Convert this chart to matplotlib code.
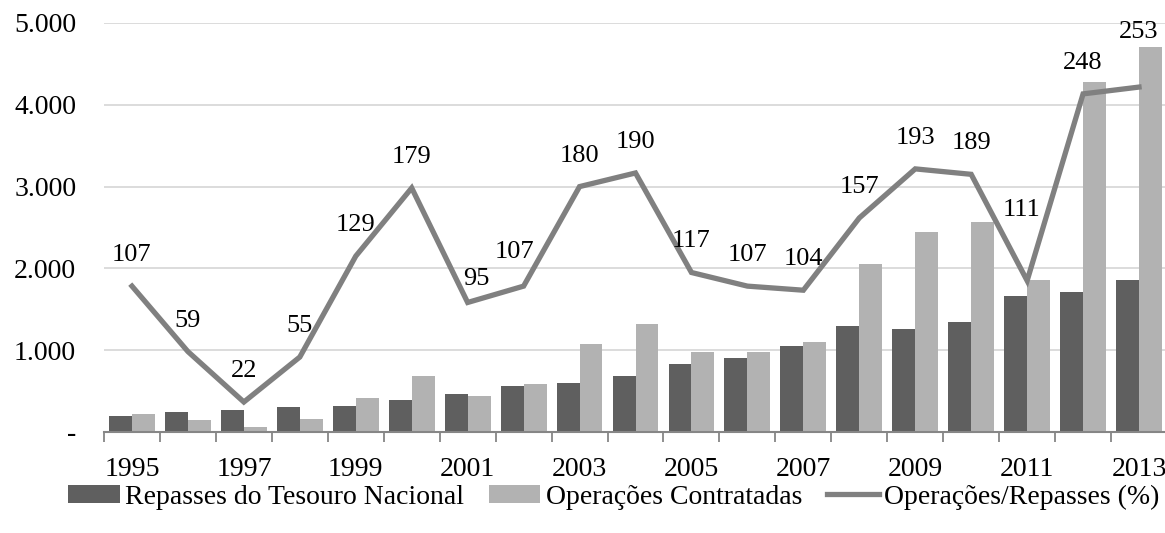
import matplotlib
matplotlib.use("Agg")
import matplotlib.pyplot as plt
import numpy as np
from matplotlib.ticker import FixedLocator, FuncFormatter

plt.rcParams["font.family"] = ["Liberation Serif", "DejaVu Serif"]

# Anual values (R$ milhões) and ratio between them (%)
years = list(range(1995, 2014))
repasses = [200, 250, 272, 300, 320, 395, 470, 565, 595, 690,
            835, 905, 1055, 1300, 1265, 1350, 1665, 1710, 1860]
operacoes = [215, 150, 62, 160, 415, 690, 445, 590, 1075, 1320,
             980, 980, 1100, 2055, 2445, 2565, 1855, 4280, 4710]
ratio = [107, 59, 22, 55, 129, 179, 95, 107, 180, 190,
         117, 107, 104, 157, 193, 189, 111, 248, 253]

y_ticks = [0, 1000, 2000, 3000, 4000, 5000]

DARK = "#5f5f5f"
LIGHT = "#b2b2b2"
LINE = "#808080"
GRID = "#d9d9d9"
AXIS = "#868686"

fig = plt.figure(figsize=(11.65, 5.33), dpi=100)
ax = fig.add_axes([104 / 1165, 1 - 432 / 533, 1063 / 1165, 409 / 533])

x = np.arange(len(years))
w = 0.41
b1 = ax.bar(x - w / 2, repasses, width=w, color=DARK, zorder=2,
            label="Repasses do Tesouro Nacional")
b2 = ax.bar(x + w / 2, operacoes, width=w, color=LIGHT, zorder=2,
            label="Operações Contratadas")

ax.set_xlim(-0.5, len(years) - 0.5)
ax.set_ylim(0, 5000)
ax.yaxis.set_major_locator(FixedLocator(y_ticks))
ax.yaxis.set_major_formatter(FuncFormatter(
    lambda v, p: "-" if v == 0 else f"{int(v):,}".replace(",", ".")))
ax.grid(axis="y", color=GRID, linewidth=1.3, zorder=0)
ax.set_axisbelow(True)

ax.set_xticks(x[::2])
ax.set_xticklabels([str(y) for y in years[::2]])
ax.set_xticks(np.arange(-0.5, len(years), 1.0), minor=True)
ax.tick_params(axis="x", which="major", length=0, pad=18, labelsize=20)
ax.tick_params(axis="x", which="minor", length=7, width=1.3, color=AXIS)
ax.tick_params(axis="y", length=0, pad=20, labelsize=20)

for s in ["top", "right", "left"]:
    ax.spines[s].set_visible(False)
ax.spines["bottom"].set_color(AXIS)
ax.spines["bottom"].set_linewidth(1.5)

# Ratio on a hidden secondary scale (0-300 %)
ax2 = ax.twinx()
ax2.set_ylim(0, 300)
ax2.axis("off")
ln, = ax2.plot(x, ratio, color=LINE, linewidth=3.8, zorder=3,
               solid_joinstyle="miter", label="Operações/Repasses (%)")

offsets = {6: (9, 23), 7: (-9, 34), 16: (-6, 71), 18: (0, 55)}
for i, r in enumerate(ratio):
    dx, dy = offsets.get(i, (0, 31))
    ax2.annotate(str(r), (x[i], r), xytext=(dx, dy),
                 textcoords="offset pixels", ha="center", va="center",
                 fontsize=19, color="black")

fig.legend([b1, b2, ln],
           ["Repasses do Tesouro Nacional", "Operações Contratadas",
            "Operações/Repasses (%)"],
           loc="center", bbox_to_anchor=(0.527, 1 - 497 / 533), ncol=3,
           frameon=False, fontsize=20, handlelength=1.85, handleheight=0.6,
           handletextpad=0.2, columnspacing=0.9)

fig.savefig("out.png", dpi=100)
